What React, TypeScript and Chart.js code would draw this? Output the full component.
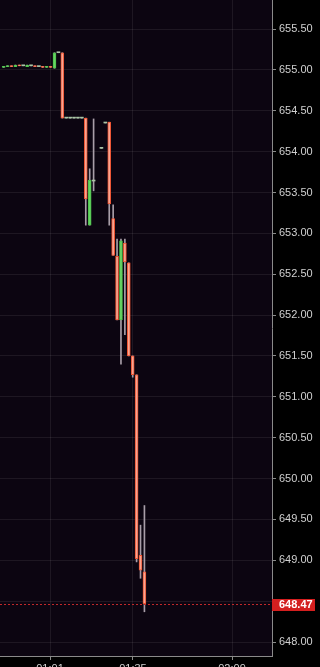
import React, { useEffect, useRef } from "react";
import { Chart, registerables } from "chart.js";

Chart.register(...registerables);

// ---- data ----
const candleIndex = [0, 1, 2, 3, 4, 5, 6, 7, 8, 9, 10, 11, 12, 13, 14, 15, 16, 17, 18, 19, 20, 21, 22, 23, 25, 26, 27, 28, 29, 30, 31, 32, 33, 34, 35, 36];
const opens = [655.03, 655.04, 655.05, 655.04, 655.06, 655.05, 655.04, 655.05, 655.05, 655.04, 655.04, 655.03, 655.04, 655.02, 655.21, 655.21, 654.41, 654.41, 654.41, 654.41, 654.41, 654.41, 653.1, 653.64, 654.04, 654.35, 654.36, 653.18, 652.72, 651.94, 652.88, 652.64, 651.5, 651.27, 649.06, 648.86];
const closes = [655.04, 655.05, 655.04, 655.06, 655.05, 655.05, 655.06, 655.05, 655.04, 655.04, 655.03, 655.04, 655.03, 655.21, 655.21, 654.41, 654.41, 654.41, 654.41, 654.41, 654.41, 653.42, 653.65, 653.64, 654.04, 654.35, 653.36, 652.73, 651.94, 652.91, 652.65, 651.5, 651.27, 649.02, 648.88, 648.47];
const highs = [655.04, 655.05, 655.05, 655.06, 655.06, 655.05, 655.06, 655.05, 655.05, 655.04, 655.04, 655.04, 655.04, 655.21, 655.21, 655.21, 654.41, 654.41, 654.41, 654.41, 654.41, 654.41, 653.79, 654.4, 654.04, 654.35, 654.36, 653.35, 652.93, 652.93, 652.93, 652.64, 651.5, 651.27, 649.43, 649.67];
const lows = [655.03, 655.04, 655.04, 655.04, 655.05, 655.05, 655.04, 655.05, 655.04, 655.04, 655.03, 655.03, 655.03, 655.02, 655.21, 654.41, 654.41, 654.41, 654.41, 654.41, 654.41, 653.1, 653.1, 653.52, 654.04, 654.35, 653.1, 652.73, 651.94, 651.4, 651.76, 651.5, 651.24, 648.98, 648.78, 648.37];
const xTickIndex = [11.85, 33.07, 58.4];
const xTickLabels = ["01:01", "01:35", "02:09"];
const yTickValues = [648.0, 648.5, 649.0, 649.5, 650.0, 650.5, 651.0, 651.5, 652.0, 652.5, 653.0, 653.5, 654.0, 654.5, 655.0, 655.5];
const xRange = [-0.94, 68.63];
const yRange = [647.829, 655.855];

// ---- styles ----
const UP = "#66d463";
const UP_BORDER = "#4cc04a";
const DOWN = "#f7a592";
const DOWN_BORDER = "#ee5230";
const DOJI = "#aac6a6";
const WICK = "#a89ea8";
const PLOT_BG = "#0c0511";
const GRID = "rgba(255,255,255,0.075)";
const AXIS = "#8a8a8a";
const TEXT = "#d0d0d0";
const FONT = "'Liberation Sans', Arial, sans-serif";

const lastPrice = closes[closes.length - 1];

function kind(i: number) {
  const o = opens[i];
  const c = closes[i];
  if (Math.abs(o - c) < 1e-9) return 0;
  return c > o ? 1 : -1;
}

const bgPlugin = {
  id: "plotBg",
  beforeDraw(chart: any) {
    const { ctx, chartArea } = chart;
    ctx.save();
    ctx.fillStyle = PLOT_BG;
    ctx.fillRect(chartArea.left, chartArea.top, chartArea.right - chartArea.left, chartArea.bottom - chartArea.top);
    ctx.restore();
  },
};

const priceLinePlugin = {
  id: "priceLine",
  afterDraw(chart: any) {
    const { ctx, chartArea, scales } = chart;
    const y = Math.round(scales.y.getPixelForValue(lastPrice));
    ctx.save();
    ctx.strokeStyle = "#c0282a";
    ctx.lineWidth = 1;
    ctx.setLineDash([2, 2]);
    ctx.beginPath();
    ctx.moveTo(chartArea.left, y + 0.5);
    ctx.lineTo(chartArea.right, y + 0.5);
    ctx.stroke();
    ctx.setLineDash([]);
    const left = chartArea.right;
    ctx.fillStyle = "#d41f1f";
    ctx.fillRect(left, y - 5, 43, 12);
    ctx.fillStyle = "#ffffff";
    ctx.font = `bold 11px ${FONT}`;
    ctx.textAlign = "left";
    ctx.textBaseline = "middle";
    ctx.fillText(lastPrice.toFixed(2), left + 7, y + 1);
    ctx.restore();
  },
};

export default function App() {
  const ref = useRef<HTMLCanvasElement>(null);

  useEffect(() => {
    document.body.style.margin = "0";
    document.body.style.background = "#000";
    const canvas = ref.current;
    if (!canvas) return;

    const bodies = candleIndex.map((x, i) => ({ x, y: [opens[i], closes[i]] }));
    const wicks = candleIndex.map((x, i) => ({ x, y: [lows[i], highs[i]] }));

    const chart = new Chart(canvas, {
      type: "bar",
      data: {
        datasets: [
          {
            data: bodies as any,
            barThickness: 3,
            minBarLength: 1,
            grouped: false,
            borderSkipped: false,
            backgroundColor: (c: any) => {
              const k = kind(c.dataIndex);
              return k > 0 ? UP : k < 0 ? DOWN : DOJI;
            },
            borderColor: (c: any) => {
              const k = kind(c.dataIndex);
              return k > 0 ? UP_BORDER : k < 0 ? DOWN_BORDER : DOJI;
            },
            borderWidth: (c: any) => (kind(c.dataIndex) === 0 ? 0 : 1),
          } as any,
          {
            data: wicks as any,
            barThickness: 1,
            grouped: false,
            borderSkipped: false,
            backgroundColor: WICK,
            borderWidth: 0,
          } as any,
        ],
      },
      options: {
        animation: false,
        responsive: false,
        maintainAspectRatio: false,
        layout: { padding: 0 },
        plugins: { legend: { display: false }, tooltip: { enabled: false } },
        scales: {
          x: {
            type: "linear",
            position: "bottom",
            min: xRange[0],
            max: xRange[1],
            offset: false,
            grid: { color: GRID, offset: false, tickLength: 4, tickColor: AXIS, drawOnChartArea: true },
            border: { display: true, color: AXIS },
            ticks: {
              color: TEXT,
              font: { family: FONT, size: 11 },
              padding: 2,
              maxRotation: 0,
              autoSkip: false,
              callback: (_v: any, i: number) => xTickLabels[i],
            },
            afterBuildTicks: (s: any) => {
              s.ticks = xTickIndex.map((v) => ({ value: v }));
            },
            afterFit: (s: any) => {
              s.height = 11;
              s.paddingLeft = 0;
              s.paddingRight = 0;
            },
          },
          y: {
            type: "linear",
            position: "right",
            min: yRange[0],
            max: yRange[1],
            grid: { color: GRID, tickLength: 4, tickColor: AXIS, drawOnChartArea: true },
            border: { display: true, color: AXIS },
            ticks: {
              color: TEXT,
              font: { family: FONT, size: 11 },
              padding: 3,
              autoSkip: false,
              callback: (v: any) => (Math.abs(Number(v) - lastPrice) < 0.1 ? "" : Number(v).toFixed(2)),
            },
            afterBuildTicks: (s: any) => {
              s.ticks = yTickValues.map((v) => ({ value: v }));
            },
            afterFit: (s: any) => {
              s.width = 48;
              s.paddingTop = 0;
              s.paddingBottom = 0;
            },
          },
        },
      } as any,
      plugins: [bgPlugin, priceLinePlugin],
    });

    return () => chart.destroy();
  }, []);

  return (
    <div style={{ width: 320, height: 667, background: "#000" }}>
      <canvas ref={ref} width={320} height={667} style={{ display: "block", width: 320, height: 667 }} />
    </div>
  );
}
